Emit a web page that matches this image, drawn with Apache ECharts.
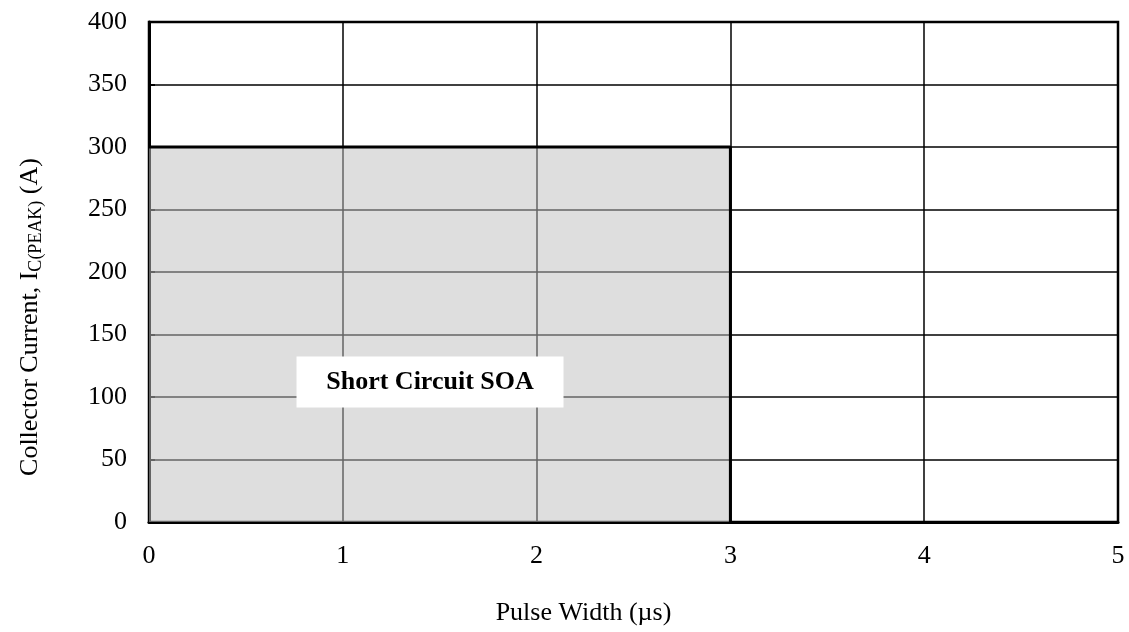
<!DOCTYPE html>
<html>
<head>
<meta charset="utf-8">
<script src="https://cdn.jsdelivr.net/npm/echarts@6/dist/echarts.min.js"></script>
<style>
  html, body { margin: 0; padding: 0; background: #fff; }
  #chart { width: 1129px; height: 632px; }
</style>
</head>
<body>
<div id="chart"></div>
<script>
const xTicks = [0, 1, 2, 3, 4, 5];
const yTicks = [0, 50, 100, 150, 200, 250, 300, 350, 400];
// boundary of the short circuit safe operating area: 300 A up to 3 us
const soaBoundary = [[0, 300], [3, 300], [3, 0]];
const soaLabel = 'Short Circuit SOA';
const soaLabelAt = [1.45, 112];

const FONT = '"Liberation Serif", "DejaVu Serif", serif';

const chart = echarts.init(document.getElementById('chart'));

chart.setOption({
  animation: false,
  backgroundColor: '#fff',
  grid: {
    left: 149,
    right: 11,
    top: 22,
    bottom: 110,
    show: true,
    borderColor: '#000',
    borderWidth: 2.5
  },
  xAxis: {
    type: 'value',
    min: xTicks[0],
    max: xTicks[xTicks.length - 1],
    interval: 1,
    name: 'Pulse Width (µs)',
    nameLocation: 'middle',
    nameGap: 78,
    nameTextStyle: {
      fontFamily: FONT, fontSize: 26, color: '#000',
      padding: [0, 100, 0, 0]
    },
    axisLine: { show: true, onZero: false, lineStyle: { color: '#000', width: 3 } },
    axisTick: { show: false },
    axisLabel: { fontFamily: FONT, fontSize: 26, color: '#000', margin: 21 },
    splitLine: { show: true, lineStyle: { color: '#000', width: 1.5 } }
  },
  yAxis: {
    type: 'value',
    min: yTicks[0],
    max: yTicks[yTicks.length - 1],
    interval: 50,
    name: 'Collector Current, I{sub|C(PEAK)} (A)',
    nameLocation: 'middle',
    nameRotate: 90,
    nameGap: 104,
    nameTextStyle: {
      fontFamily: FONT, fontSize: 26, color: '#000',
      padding: [0, 90, 0, 0],
      rich: {
        sub: { fontFamily: FONT, fontSize: 18, color: '#000', padding: [11, 0, 0, 0] }
      }
    },
    axisLine: { show: true, onZero: false, lineStyle: { color: '#000', width: 3 } },
    axisTick: { show: true, inside: true, length: 6, lineStyle: { color: '#000', width: 2 } },
    axisLabel: { fontFamily: FONT, fontSize: 26, color: '#000', margin: 22 },
    splitLine: { show: true, lineStyle: { color: '#000', width: 1.5 } }
  },
  series: [
    {
      type: 'line',
      data: soaBoundary,
      symbol: 'none',
      lineStyle: { color: '#000', width: 3 },
      areaStyle: { color: 'rgb(192,192,192)', opacity: 0.52 },
      z: 3,
      markPoint: {
        silent: true,
        symbol: 'rect',
        symbolSize: [267, 51],
        itemStyle: { color: '#fff' },
        label: {
          show: true,
          position: 'inside',
          formatter: soaLabel,
          fontFamily: FONT,
          fontSize: 26,
          fontWeight: 'bold',
          color: '#000'
        },
        data: [{ coord: soaLabelAt }]
      }
    }
  ]
});
</script>
</body>
</html>
